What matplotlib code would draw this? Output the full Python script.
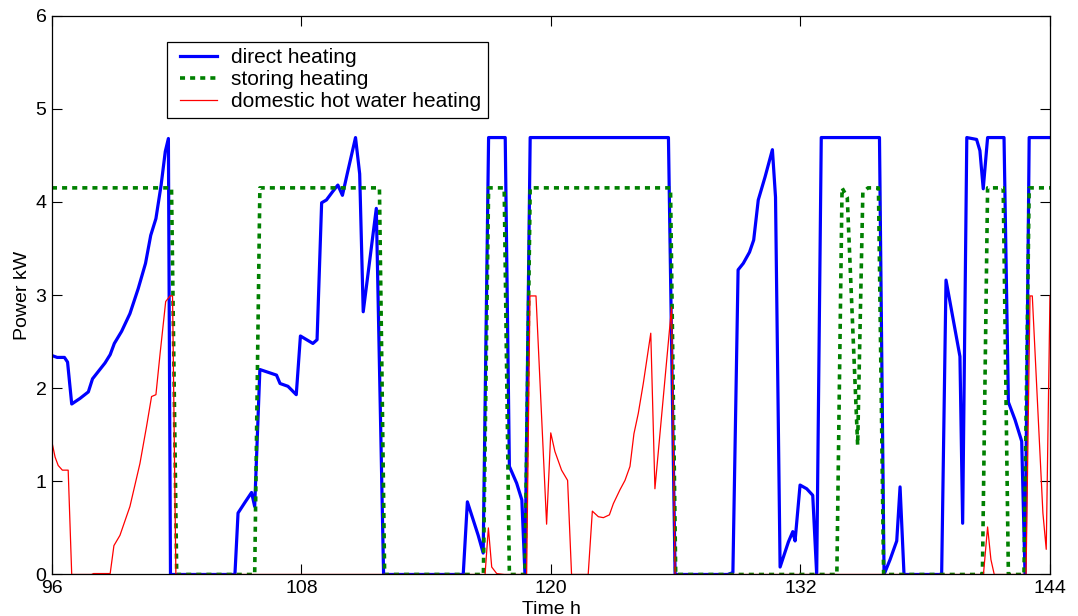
import matplotlib
matplotlib.use("Agg")
import matplotlib.pyplot as plt
from matplotlib.lines import Line2D
from matplotlib.legend_handler import HandlerLine2D

plt.rcParams['font.family'] = ['Liberation Sans', 'DejaVu Sans']

# direct heating (blue), breakpoints
t_direct = [96.0, 96.25, 96.6, 96.75, 96.95, 97.35, 97.75, 97.95, 98.55, 98.8,
            99.0, 99.35, 99.75, 100.15, 100.5, 100.75, 101.0, 101.25, 101.45, 101.6,
            101.7, 104.8, 104.95, 105.3, 105.6, 105.75, 106.0, 106.8, 106.97, 107.35,
            107.75, 107.95, 108.55, 108.75, 108.97, 109.2, 109.5, 109.75, 109.97, 110.2,
            110.6, 110.8, 110.97, 111.6, 111.95, 115.78, 115.98, 116.5, 116.74, 117.0,
            117.8, 118.0, 118.35, 118.6, 118.75, 119.0, 125.65, 125.97, 128.5, 128.75,
            129.0, 129.25, 129.55, 129.75, 129.97, 130.3, 130.65, 130.8, 131.02, 131.42,
            131.63, 131.74, 131.98, 132.3, 132.59, 132.78, 133.0, 135.8, 136.02, 136.31,
            136.63, 136.79, 136.98, 138.79, 139.0, 139.67, 139.8, 140.0, 140.47, 140.63,
            140.79, 141.0, 141.79, 142.0, 142.32, 142.64, 142.8, 143.0, 144.0]
p_direct = [2.35, 2.33, 2.33, 2.28, 1.83, 1.89, 1.96, 2.10, 2.27, 2.36,
            2.48, 2.61, 2.80, 3.07, 3.34, 3.64, 3.82, 4.18, 4.54, 4.68,
            0.0, 0.0, 0.66, 0.78, 0.88, 0.73, 2.20, 2.14, 2.05, 2.02,
            1.93, 2.56, 2.48, 2.52, 3.99, 4.02, 4.11, 4.18, 4.07, 4.30,
            4.69, 4.30, 2.82, 3.93, 0.0, 0.0, 0.78, 0.42, 0.23, 4.69,
            4.69, 1.16, 0.98, 0.80, 0.0, 4.69, 4.69, 0.0, 0.0, 0.02,
            3.27, 3.34, 3.46, 3.59, 4.02, 4.27, 4.56, 4.05, 0.08, 0.35,
            0.46, 0.36, 0.96, 0.92, 0.85, 0.0, 4.69, 4.69, 0.0, 0.16,
            0.36, 0.94, 0.0, 0.0, 3.16, 2.34, 0.55, 4.69, 4.67, 4.55,
            4.14, 4.69, 4.69, 1.85, 1.66, 1.43, 0.0, 4.69, 4.69]

# storing heating (green)
t_storing = [96.0, 101.75, 102.0, 105.75, 106.0, 111.75, 112.0, 116.75, 117.0, 117.75,
             118.0, 118.75, 119.0, 125.75, 126.0, 133.75, 134.0, 134.25, 134.75, 135.0,
             135.25, 135.75, 136.0, 140.75, 141.0, 141.75, 142.0, 142.75, 143.0, 144.0]
p_storing = [4.15, 4.15, 0.0, 0.0, 4.15, 4.15, 0.0, 0.0, 4.15, 4.15,
             0.0, 0.0, 4.15, 4.15, 0.0, 0.0, 4.15, 4.05, 1.39, 4.10,
             4.15, 4.15, 0.0, 0.0, 4.15, 4.15, 0.0, 0.0, 4.15, 4.15]

# domestic hot water heating (red)
t_dhw = [96.0, 96.15, 96.3, 96.5, 96.78, 96.95, 97.9, 98.0, 98.8, 98.98,
         99.27, 99.75, 100.23, 100.55, 100.79, 101.0, 101.2, 101.47, 101.68, 101.8,
         101.96, 116.83, 116.99, 117.15, 117.39, 117.75, 118.83, 118.99, 119.28, 119.79,
         119.99, 120.19, 120.51, 120.8, 120.99, 121.79, 121.99, 122.28, 122.52, 122.81,
         123.0, 123.32, 123.56, 123.8, 123.99, 124.2, 124.44, 124.8, 125.0, 125.8,
         125.97, 140.8, 141.0, 141.16, 141.32, 142.85, 143.04, 143.15, 143.44, 143.66,
         143.82, 144.0]
p_dhw = [1.42, 1.26, 1.17, 1.12, 1.12, 0.0, 0.0, 0.01, 0.01, 0.31,
         0.42, 0.73, 1.19, 1.59, 1.91, 1.93, 2.37, 2.93, 2.99, 2.99,
         0.0, 0.0, 0.50, 0.08, 0.01, 0.0, 0.0, 2.99, 2.99, 0.54,
         1.52, 1.32, 1.12, 1.01, 0.0, 0.0, 0.68, 0.62, 0.61, 0.64,
         0.76, 0.91, 1.01, 1.16, 1.51, 1.73, 2.05, 2.59, 0.92, 2.87,
         0.0, 0.0, 0.51, 0.16, 0.0, 0.0, 2.99, 2.99, 1.66, 0.66,
         0.27, 2.99]

x_ticks = [96, 108, 120, 132, 144]
y_ticks = [0, 1, 2, 3, 4, 5, 6]

fig = plt.figure(figsize=(10.78, 6.16), dpi=100)
ax = fig.add_axes([0.0482, 0.0674, 0.9258, 0.9074])

ax.plot(t_direct, p_direct, color='#0000ff', lw=2.3, label='direct heating')
ax.plot(t_storing, p_storing, color='#008000', lw=2.6, linestyle=(0, (1.4, 1.4)),
        dash_capstyle='butt', label='storing heating')
ax.plot(t_dhw, p_dhw, color='#ff0000', lw=0.9, label='domestic hot water heating')

ax.set_xlim(96, 144)
ax.set_ylim(0, 6)
ax.set_xticks(x_ticks)
ax.set_yticks(y_ticks)
ax.tick_params(direction='in', top=True, right=True, length=7, width=0.8,
               labelsize=14, pad=4)
for s in ax.spines.values():
    s.set_linewidth(0.9)

ax.set_xlabel('Time h', fontsize=14, labelpad=3)
ax.set_ylabel('Power kW', fontsize=14, labelpad=3)

leg = ax.legend(loc='upper left', bbox_to_anchor=(0.1155, 0.953), fontsize=15,
                frameon=True, fancybox=False, framealpha=1, edgecolor='black',
                handlelength=2.11, handletextpad=0.67, labelspacing=0.15,
                borderpad=0.3, borderaxespad=0,
                handler_map={Line2D: HandlerLine2D(xpad=0.3)})
leg.get_frame().set_linewidth(0.9)

fig.savefig('out.png', dpi=100)
